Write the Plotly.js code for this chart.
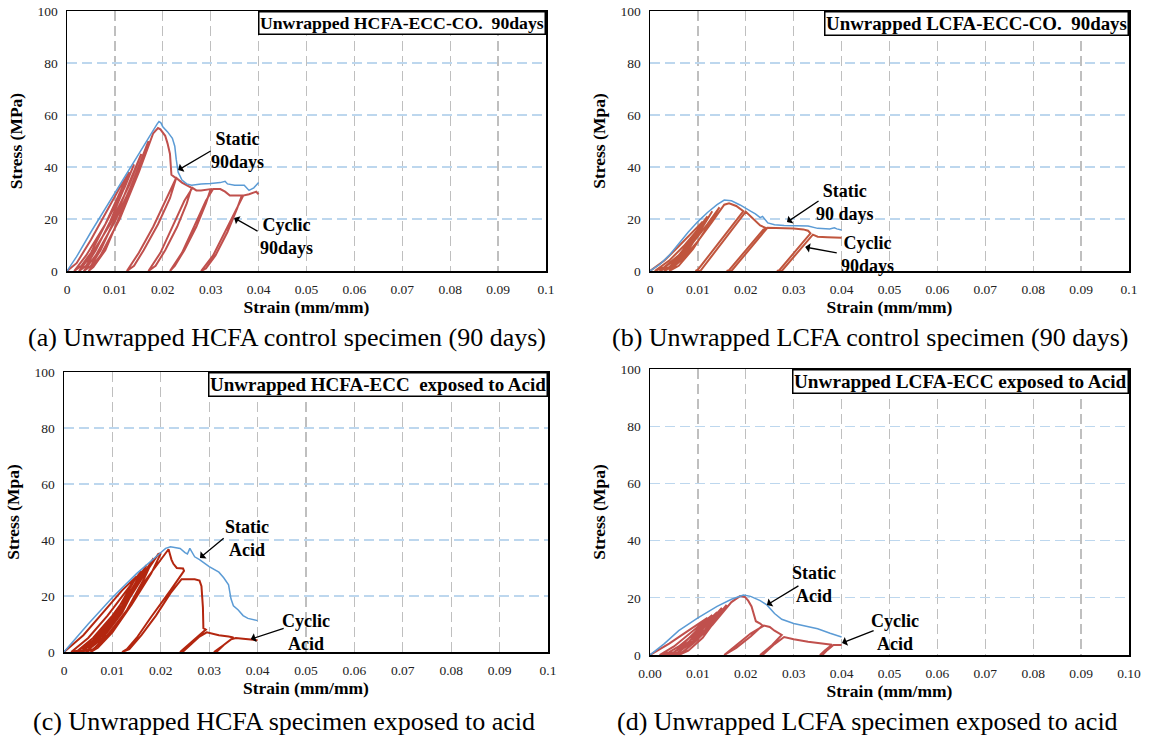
<!DOCTYPE html>
<html>
<head>
<meta charset="utf-8">
<script src="https://cdn.plot.ly/plotly-3.0.1.min.js"></script>
<style>
html,body{margin:0;padding:0;background:#fff;}
#chart{width:1149px;height:742px;}
</style>
</head>
<body>
<div id="chart"></div>
<script>
// ---------------- DATA (strain, stress) ----------------
const xTicks = [0, 0.01, 0.02, 0.03, 0.04, 0.05, 0.06, 0.07, 0.08, 0.09, 0.1];
const yTicks = [0, 20, 40, 60, 80, 100];

// (a) HCFA control, 90 days
const staticA = [[0,0],[0.002,5.5],[0.005,15],[0.010,30],[0.013,39],[0.015,45],[0.017,51.5],[0.018,54.5],[0.0188,56.5],[0.0192,57.5],[0.0196,57],[0.020,55.5],[0.021,53.5],[0.022,51],[0.0225,48],[0.0228,43],[0.0232,38],[0.024,35],[0.025,33.5],[0.026,33],[0.028,33.5],[0.030,33.7],[0.032,34],[0.033,34.5],[0.0335,33.5],[0.035,33],[0.037,33],[0.038,31],[0.039,32],[0.040,34]];
const cyclicA = [[0,0],[0.002,3],[0.005,12],[0.008,22],[0.011,32],[0.013,38],
 [0.011,30],[0.008,18],[0.005,7],[0.003,2],[0.0015,0],
 [0.004,6],[0.008,18],[0.012,32],[0.014,41],
 [0.012,32],[0.009,19],[0.006,8],[0.004,2],[0.0025,0],
 [0.005,6],[0.009,18],[0.013,33],[0.0155,45],
 [0.013,34],[0.010,20],[0.007,8],[0.005,2],[0.0035,0],
 [0.006,6],[0.010,19],[0.014,35],[0.017,50],
 [0.0145,38],[0.011,21],[0.008,8],[0.0055,1.5],[0.0045,0],
 [0.007,6],[0.011,20],[0.015,38],[0.018,53],[0.019,55],
 [0.0195,54.5],[0.0205,52],[0.021,49],[0.0215,45],[0.0218,37],[0.0225,36],[0.0228,35.8],
 [0.0215,28],[0.019,18],[0.016,8],[0.014,2],[0.0125,0],
 [0.015,7],[0.018,17],[0.021,29],[0.0228,35.8],[0.024,34],[0.025,33],[0.026,32],
 [0.025,26],[0.023,17],[0.0205,8],[0.0185,2],[0.017,0],
 [0.0195,7],[0.022,17],[0.0245,27],[0.0262,32],[0.027,31],[0.028,31],[0.030,31.5],
 [0.029,26],[0.027,17],[0.0245,8],[0.0225,2],[0.0215,0],
 [0.024,7],[0.0265,17],[0.029,27],[0.0305,31.5],[0.032,31.5],[0.033,30.5],[0.034,29],[0.0365,29],
 [0.0355,24],[0.0335,15],[0.031,6],[0.029,1],[0.028,0],
 [0.0305,6],[0.033,15],[0.0355,24],[0.0368,29],[0.038,29.5],[0.0395,30.5],[0.040,29.5]];

// (b) LCFA control, 90 days
const staticB = [[0,0],[0.002,2.5],[0.004,6],[0.006,10.5],[0.008,15],[0.010,19],[0.012,22.5],[0.014,25.5],[0.0155,27.3],[0.017,27],[0.0188,25.4],[0.021,23],[0.022,22],[0.023,20.5],[0.0235,21],[0.0246,18.5],[0.026,17.8],[0.028,17.5],[0.030,17.4],[0.033,17.3],[0.035,16.4],[0.0375,16.2],[0.0385,16.6],[0.039,16.2],[0.040,15.8]];
const cyclicB = [[0,0],[0.003,4],[0.006,9.5],[0.009,15],[0.011,19],
 [0.009,13],[0.006,6],[0.003,1.5],[0.001,0],
 [0.004,4],[0.007,9.5],[0.010,16],[0.012,21],
 [0.010,15],[0.007,7],[0.004,1.5],[0.002,0],
 [0.005,4],[0.008,10],[0.011,17],[0.013,23],
 [0.011,16.5],[0.008,8],[0.005,2],[0.003,0],
 [0.006,4.5],[0.009,11],[0.012,18],[0.0145,24.5],
 [0.012,17],[0.009,8.5],[0.006,2],[0.004,0],
 [0.007,5],[0.010,11.5],[0.013,19],[0.0155,25.5],[0.0165,26],
 [0.018,25],[0.0195,23],
 [0.0100,0.5],[0.0095,0],[0.0105,0],[0.0200,22.8],
 [0.021,21],[0.022,19],[0.023,17.5],[0.024,16.7],
 [0.0165,0.3],[0.016,0],[0.017,0],[0.0245,16.6],
 [0.027,16.5],[0.030,16.3],[0.032,16],[0.033,15.5],[0.0335,14.5],
 [0.027,0.3],[0.0265,0],[0.0275,0],[0.034,14],
 [0.035,13.2],[0.037,13],[0.040,12.8]];

// (c) HCFA exposed to acid
const staticC = [[0,0],[0.005,10],[0.010,19.5],[0.015,28],[0.019,34],[0.021,37],[0.022,37.6],[0.024,37],[0.025,35.5],[0.0255,35],[0.026,37],[0.027,34],[0.028,33],[0.030,30.5],[0.032,28.5],[0.033,26.5],[0.034,24],[0.0345,19],[0.035,16.5],[0.036,15],[0.037,13],[0.038,12],[0.040,11.2]];
const cyclicC = [[0,0],[0.004,6],[0.008,14],[0.012,22],[0.015,27],
 [0.013,21],[0.010,12],[0.006,4],[0.003,0.5],[0.0015,0],
 [0.005,5],[0.009,13],[0.013,22],[0.016,29],
 [0.014,22],[0.011,13],[0.007,4.5],[0.004,0.5],[0.0025,0],
 [0.006,5],[0.010,13],[0.014,22.5],[0.017,31],
 [0.015,24],[0.012,14],[0.008,5],[0.005,0.8],[0.0035,0],
 [0.007,5.5],[0.011,14],[0.015,24],[0.0185,33.5],
 [0.0165,26],[0.013,15],[0.009,5.5],[0.006,1],[0.0045,0],
 [0.008,6],[0.012,15],[0.016,26],[0.0195,35],[0.020,35.2],
 [0.018,28],[0.014,17],[0.010,7],[0.007,1.5],[0.0055,0],
 [0.009,6],[0.013,15],[0.017,26],[0.020,33],[0.0216,36.7],
 [0.0222,33],[0.0226,31.5],[0.0233,30],[0.024,30],[0.0246,29.8],[0.0248,29],
 [0.022,22],[0.018,12.5],[0.015,5],[0.013,1],[0.012,0],
 [0.0135,1],[0.016,6],[0.019,13],[0.022,21],[0.0243,26],
 [0.0255,26],[0.027,26],[0.028,25.5],[0.0284,23.5],[0.0287,16],[0.0288,8.5],[0.0293,8],
 [0.027,4.5],[0.0255,2],[0.024,0],
 [0.0245,0],[0.026,2.5],[0.028,5.5],[0.0295,7],[0.0305,6.5],[0.032,6],[0.034,5.5],[0.035,5.2],
 [0.033,2.5],[0.031,0],
 [0.0315,0],[0.033,2.5],[0.0345,4.5],[0.0355,5],[0.037,4.7],[0.039,4.4],[0.040,4.2]];

// (d) LCFA exposed to acid
const staticD = [[0,0],[0.003,4],[0.006,8.5],[0.010,13],[0.014,17],[0.017,19.5],[0.0195,21],[0.021,20.5],[0.023,19],[0.0244,17.5],[0.026,14.5],[0.0275,12.5],[0.030,11],[0.033,10],[0.035,9.2],[0.0376,7.6],[0.040,6.3]];
const cyclicD = [[0,0],[0.004,4],[0.008,8.5],[0.012,13],
 [0.010,9],[0.007,4],[0.004,1],[0.002,0],
 [0.005,3],[0.009,8.5],[0.013,14],
 [0.011,10],[0.008,4.5],[0.005,1],[0.003,0],
 [0.006,3],[0.010,8.5],[0.014,15],
 [0.012,11],[0.009,5],[0.006,1],[0.004,0],
 [0.007,3],[0.011,9],[0.015,16.5],
 [0.013,12],[0.010,5.5],[0.007,1.2],[0.005,0],
 [0.008,3.5],[0.012,9.5],[0.016,17.5],
 [0.014,13],[0.011,6],[0.008,1.5],[0.006,0],
 [0.009,4],[0.013,10.5],[0.017,18.5],[0.0188,20.6],
 [0.0198,20.3],[0.0205,19],[0.0212,17],[0.0218,14],[0.0221,11.8],[0.023,11],[0.0235,10.3],
 [0.021,6.5],[0.018,2.5],[0.0155,0],
 [0.018,3.5],[0.021,7.5],[0.0238,10.3],[0.025,9.8],[0.026,8.5],[0.0275,7],
 [0.0255,3.5],[0.023,0],
 [0.0235,0],[0.026,3.8],[0.028,6.3],[0.030,5.5],[0.033,4.6],[0.036,4],[0.038,3.6],
 [0.0365,1.6],[0.0355,0],
 [0.036,0],[0.037,1.7],[0.0383,3.5],[0.040,3.5]];

const panelTitles = ["Unwrapped HCFA-ECC-CO.\u00A0 90days", "Unwrapped LCFA-ECC-CO.\u00A0 90days", "Unwrapped HCFA-ECC\u00A0 exposed to Acid", "Unwrapped LCFA-ECC exposed to Acid"];
const yTitles = ["Stress (MPa)", "Stress (Mpa)", "Stress (Mpa)", "Stress (Mpa)"];
const xTitle = "Strain (mm/mm)";
const captions = ["(a) Unwrapped HCFA control specimen (90 days)", "(b) Unwrapped LCFA control specimen (90 days)", "(c) Unwrapped HCFA specimen exposed to acid", "(d) Unwrapped LCFA specimen exposed to acid"];
const staticLabels = ["Static<br>90days", "Static<br>90 days", "Static<br>Acid", "Static<br>Acid"];
const cyclicLabels = ["Cyclic<br>90days", "Cyclic<br>90days", "Cyclic<br>Acid", "Cyclic<br>Acid"];
// arrow [head x, head y, tail x, tail y], label centre [x, y]
const staticArrows = [[0.0232,38.8,0.0303,46.5],[0.0286,18.8,0.0355,27.3],[0.0281,33.6,0.0333,41.1],[0.0244,17.5,0.0313,24.5]];
const staticLabelPos = [[0.0355,46.2],[0.0407,26.5],[0.0378,40.7],[0.0342,24.5]];
const cyclicArrows = [[0.0349,20.4,0.0401,15],[0.0324,9.2,0.0393,6.9],[0.0386,4.6,0.0457,8.6],[0.0401,4.2,0.047,8.7]];
const cyclicLabelPos = [[0.0459,13.1],[0.0455,6.2],[0.05,7.1],[0.0511,7.7]];

// ---------------- LAYOUT ----------------
const W = 1149, H = 742;
// plot boxes in pixels [left, right, top, bottom]
const boxes = [[67,546,11,271],[650,1129,11,271],[64,548,372,652],[650,1129,369,655]];
const captionPos = [[287,337],[870,337],[284,721],[867,721]];
const titleBoxFont = [17.7, 18.9, 19, 19.2];
const cyclicColors = ["#C0504D", "#C0553D", "#B3260F", "#C0504D"];
const staticColor = "#5B9BD5";
const serif = "Liberation Serif";

const statics = [staticA, staticB, staticC, staticD];
const cyclics = [cyclicA, cyclicB, cyclicC, cyclicD];

const traces = [];
const layout = {
  width: W, height: H,
  margin: {l:0, r:0, t:0, b:0},
  paper_bgcolor: "#fff", plot_bgcolor: "#fff",
  showlegend: false,
  font: {family: serif, color: "#000"},
  annotations: [], shapes: []
};

for (let i = 0; i < 4; i++) {
  const s = i === 0 ? "" : String(i + 1);
  const xa = "x" + s, ya = "y" + s;
  const b = boxes[i];
  layout["xaxis" + s] = {
    domain: [b[0] / W, b[1] / W], anchor: ya,
    range: [0, 0.1], tickvals: xTicks, tickformat: i === 3 ? ".2f" : "",
    showgrid: true, gridcolor: "#BFBFBF", gridwidth: 1.3, griddash: "10px,5px",
    zeroline: false, showline: true, linecolor: "#000", linewidth: 1.5, mirror: true,
    ticks: "", ticklabelstandoff: 5, tickfont: {family: serif, size: 13.5, color: "#222"},
    title: {text: "<b>" + xTitle + "</b>", font: {family: serif, size: 17.5, color: "#000"}, standoff: 3},
    fixedrange: true
  };
  layout["yaxis" + s] = {
    domain: [1 - b[3] / H, 1 - b[2] / H], anchor: xa,
    range: [0, 100], tickvals: yTicks,
    showgrid: true, gridcolor: "#BDD7EE", gridwidth: 1.3, griddash: "10px,5px",
    zeroline: false, showline: true, linecolor: "#000", linewidth: 1.5, mirror: true,
    ticks: "", ticklabelstandoff: 5, tickfont: {family: serif, size: 13.5, color: "#222"},
    title: {text: "<b>" + yTitles[i] + "</b>", font: {family: serif, size: 17.5, color: "#000"}, standoff: 10},
    fixedrange: true
  };
  traces.push({
    x: cyclics[i].map(p => p[0]), y: cyclics[i].map(p => p[1]),
    xaxis: xa, yaxis: ya, type: "scatter", mode: "lines",
    line: {color: cyclicColors[i], width: 2}, hoverinfo: "skip"
  });
  traces.push({
    x: statics[i].map(p => p[0]), y: statics[i].map(p => p[1]),
    xaxis: xa, yaxis: ya, type: "scatter", mode: "lines",
    line: {color: staticColor, width: 1.5}, hoverinfo: "skip"
  });
  // panel title box
  layout.annotations.push({
    xref: "paper", yref: "paper", x: b[1] / W, y: 1 - b[2] / H,
    xanchor: "right", yanchor: "top", showarrow: false,
    text: "<b>" + panelTitles[i] + "</b>",
    font: {family: serif, size: titleBoxFont[i], color: "#000"},
    bgcolor: "#fff", bordercolor: "#000", borderwidth: 1.5, borderpad: 0.5
  });
  // caption
  layout.annotations.push({
    xref: "paper", yref: "paper", x: captionPos[i][0] / W, y: 1 - captionPos[i][1] / H,
    xanchor: "center", yanchor: "middle", showarrow: false,
    text: captions[i], font: {family: serif, size: 26, color: "#000"}
  });
  // labels + arrows
  const labels = [[staticLabels[i], staticLabelPos[i], staticArrows[i]], [cyclicLabels[i], cyclicLabelPos[i], cyclicArrows[i]]];
  labels.forEach(([txt, pos, arr]) => {
    layout.annotations.push({
      xref: xa, yref: ya, x: pos[0], y: pos[1], xanchor: "center", yanchor: "middle",
      showarrow: false, text: "<b>" + txt + "</b>",
      font: {family: serif, size: 18, color: "#000"}
    });
    layout.annotations.push({
      xref: xa, yref: ya, x: arr[0], y: arr[1], axref: xa, ayref: ya, ax: arr[2], ay: arr[3],
      text: "", showarrow: true, arrowhead: 1, arrowsize: 1.2, arrowwidth: 1.3, arrowcolor: "#000"
    });
  });
}

Plotly.newPlot("chart", traces, layout, {displayModeBar: false, staticPlot: true});
</script>
</body>
</html>
